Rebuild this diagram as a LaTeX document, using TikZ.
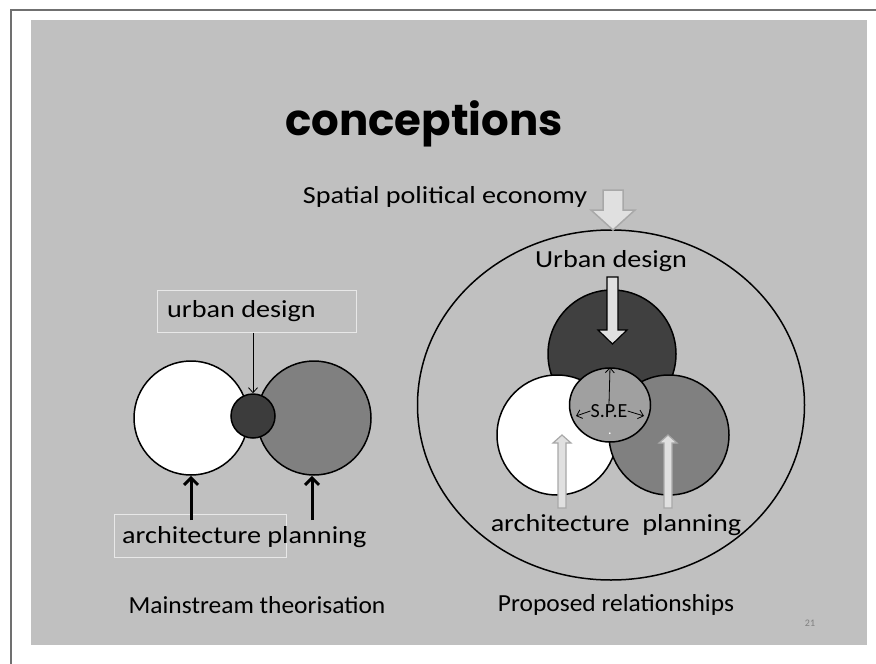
\documentclass[tikz,border=0pt]{standalone}
\usepackage{fontspec}
\setmainfont{Carlito}
\newfontfamily\titlefont{Poppins}
\newfontfamily\lblwide{Carlito}[FakeStretch=1.15]
\newfontfamily\lblmed{Carlito}[FakeStretch=1.04]
\usetikzlibrary{arrows.meta,shapes.geometric}
\definecolor{panel}{HTML}{C0C0C0}
\definecolor{frame}{HTML}{707070}
\definecolor{darkc}{HTML}{404040}
\definecolor{smallc}{HTML}{3C3C3C}
\definecolor{midc}{HTML}{808080}
\definecolor{spec}{HTML}{A0A0A0}
\definecolor{blockc}{HTML}{E0E0E0}
\definecolor{boxline}{HTML}{E8E8E8}
\definecolor{blockline}{HTML}{A8A8A8}
\tikzset{
  circ/.style={circle, draw=black, line width=1.5pt, inner sep=0pt},
  lbox/.style={draw=boxline, line width=0.8pt, inner sep=0pt},
  lbl/.style={font=\lblwide\fontsize{24.5}{28}\selectfont, inner sep=0pt},
  lblb/.style={font=\lblmed\fontsize{24.5}{28}\selectfont, inner sep=0pt},
  thickarrow/.style={line width=3pt, -{Straight Barb[length=7pt,width=14pt,line width=3pt]}},
  thinarrow/.style={line width=0.8pt, -{Straight Barb[length=5pt,width=9pt]}},
  blockdown/.style={fill=blockc, draw=black, line width=1.2pt, line join=miter},
  blockgray/.style={fill=blockc, draw=blockline, line width=1.5pt, line join=miter}
}
\begin{document}
\begin{tikzpicture}[x=1pt,y=-1pt]
\useasboundingbox (0,0) rectangle (876,664);
\fill[white] (0,0) rectangle (876,664);
\draw[frame, line width=2pt] (11,664) -- (11,10) -- (876,10);
\fill[panel] (31,20) rectangle (867,645);

% title
\node[anchor=base, inner sep=0pt, font=\titlefont\bfseries\fontsize{43.5}{48}\selectfont] (title) at (424,135) {conceptions};

% ---------- left diagram ----------
\node[circ, fill=white, minimum size=114pt] (lw) at (191,418) {};
\node[circ, fill=midc, minimum size=114pt] (lg) at (314,418) {};
\node[circ, fill=smallc, minimum size=44pt] (ls) at (253,416) {};
\node[lbox, anchor=north west, minimum width=199pt, minimum height=42pt] (lud) at (157,290) {};
\node[lbl, anchor=west] (udl) at (167,311) {urban design};
\draw[thinarrow] (ls.north |- lud.south) -- (ls.north);

\node[lbox, anchor=north west, minimum width=172pt, minimum height=43pt] (abox) at (114,514) {};
\node[lbl, anchor=west] (atext) at (122,537) {architecture planning};
\coordinate (la1) at (191,520);
\coordinate (la2) at (312,520);
\draw[thickarrow] (la1) -- (la1 |- lw.south);
\draw[thickarrow] (la2) -- (la2 |- lg.south);

\node[lblb] (mt) at (257,605) {Mainstream theorisation};

% ---------- right diagram ----------
\node[ellipse, draw=black, line width=1.5pt, minimum width=387pt, minimum height=350pt, inner sep=0pt] (big) at (611,405) {};
\node[circ, fill=darkc, minimum size=128pt] (rd) at (612,354) {};
\node[circ, fill=white, minimum size=120pt] (rw) at (557,435) {};
\node[circ, fill=midc, minimum size=120pt] (rg) at (669,435) {};
\node[ellipse, draw=black, line width=1.5pt, fill=spec, minimum width=81pt, minimum height=74pt, inner sep=0pt] (spe) at (610,405) {};
\node[inner sep=0pt, font=\fontsize{20}{22}\selectfont] (spet) at (609,411) {S.P.E};
\node[inner sep=0pt, text=white, font=\fontsize{14}{16}\selectfont] (dot) at (610,434) {.};
\coordinate (sl) at (576,416);
\coordinate (sr) at (644,416);
\draw[thinarrow] (spet.north) -- (spe.north);
\draw[thinarrow] (spet.west) -- (sl);
\draw[thinarrow] (spet.east) -- (sr);

% block arrow: urban design
\draw[blockdown] (607,277) -- (618,277) -- (618,330) -- (627,330) -- (612.5,344) -- (598,330) -- (607,330) -- cycle;
% block arrow: spatial political economy
\draw[blockgray] (603,190) -- (623,190) -- (623,210) -- (635,210) -- (613,230) -- (591,210) -- (603,210) -- cycle;
% gray up arrows
\draw[blockgray, line width=1.2pt] (558,508) -- (558,443) -- (553,443) -- (562,435) -- (571,443) -- (566,443) -- (566,508) -- cycle;
\draw[blockgray, line width=1.2pt] (664,508) -- (664,443) -- (659,443) -- (668,435) -- (677,443) -- (672,443) -- (672,508) -- cycle;

\node[lbl] (spt) at (445,197) {Spatial political economy};
\node[lbl] (udt) at (611,261) {Urban design};
\node[lbl] (apt) at (616,525) {architecture\ \ planning};
\node[lblb] (pr) at (616,605) {Proposed relationships};
\node[inner sep=0pt, text=midc, font=\fontsize{10}{12}\selectfont] (num) at (810,623) {21};
\end{tikzpicture}
\end{document}
